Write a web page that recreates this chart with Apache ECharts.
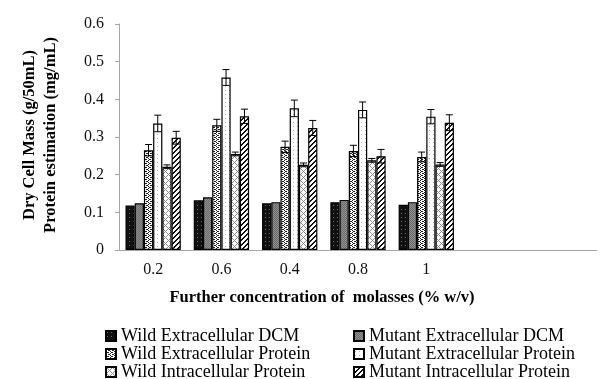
<!DOCTYPE html>
<html>
<head>
<meta charset="utf-8">
<script src="https://cdn.jsdelivr.net/npm/echarts@6/dist/echarts.min.js"></script>
<style>
  html, body { margin: 0; padding: 0; background: #fff; }
  #chart { width: 600px; height: 379px; }
</style>
</head>
<body>
<div id="chart"></div>
<script>
// Molasses concentrations (% w/v); the last two slots are left empty on the axis
const concentrations = ['0.2', '0.6', '0.4', '0.8', '1', '', ' '];

// Dry cell mass (g/50mL)
const wildExtracellularDCM   = [0.118, 0.132, 0.124, 0.127, 0.120];
const mutantExtracellularDCM = [0.124, 0.140, 0.127, 0.133, 0.127];

// Protein estimation (mg/mL) with standard errors
const wildExtracellularProtein      = [0.265, 0.331, 0.274, 0.263, 0.247];
const wildExtracellularProteinErr   = [0.015, 0.016, 0.015, 0.015, 0.013];
const mutantExtracellularProtein    = [0.336, 0.458, 0.376, 0.372, 0.354];
const mutantExtracellularProteinErr = [0.022, 0.021, 0.022, 0.021, 0.019];
const wildIntracellularProtein      = [0.221, 0.255, 0.226, 0.238, 0.227];
const wildIntracellularProteinErr   = [0.005, 0.005, 0.005, 0.005, 0.005];
const mutantIntracellularProtein    = [0.298, 0.355, 0.324, 0.249, 0.338];
const mutantIntracellularProteinErr = [0.017, 0.019, 0.020, 0.018, 0.021];

const seriesNames = [
  'Wild Extracellular DCM', 'Mutant Extracellular DCM',
  'Wild Extracellular Protein', 'Mutant Extracellular Protein',
  'Wild Intracellular Protein', 'Mutant Intracellular Protein'
];
const seriesValues = [
  wildExtracellularDCM, mutantExtracellularDCM,
  wildExtracellularProtein, mutantExtracellularProtein,
  wildIntracellularProtein, mutantIntracellularProtein
];
const seriesErrors = [
  null, null,
  wildExtracellularProteinErr, mutantExtracellularProteinErr,
  wildIntracellularProteinErr, mutantIntracellularProteinErr
];

// Small bitmap fills for the monochrome bar textures
function pattern(size, bg, fg, isOn) {
  const c = document.createElement('canvas');
  c.width = size; c.height = size;
  const ctx = c.getContext('2d');
  ctx.fillStyle = bg;
  ctx.fillRect(0, 0, size, size);
  ctx.fillStyle = fg;
  for (let y = 0; y < size; y++) {
    for (let x = 0; x < size; x++) {
      if (isOn(x, y)) ctx.fillRect(x, y, 1, 1);
    }
  }
  return { image: c, repeat: 'repeat' };
}

const fills = [
  pattern(4, '#111', '#6e6e6e', (x, y) => x === 1 && y === 1),
  pattern(2, '#8e8e8e', '#6c6c6c', (x, y) => x === y),
  pattern(4, '#fff', '#222', (x, y) => (x + 2 * y) % 4 === 0 || (x === 3 && y === 1) || (x === 1 && y === 3)),
  pattern(4, '#fff', '#b0b0b0', (x, y) => x === 1 && y === 2),
  pattern(6, '#fff', '#8a8a8a', (x, y) => (x + y) % 6 === 0 || (x - y + 6) % 6 === 0),
  pattern(5, '#fff', '#111', (x, y) => (x + y) % 5 === 0 || (x + y) % 5 === 1)
];

const GAP = 0.19;
const FONT = '"Liberation Serif", "Times New Roman", serif';

const barSeries = seriesNames.map((name, i) => ({
  name: name,
  type: 'bar',
  data: seriesValues[i],
  barGap: '0%',
  barCategoryGap: (GAP * 100) + '%',
  itemStyle: { color: fills[i], borderColor: '#000', borderWidth: 1.2 },
  emphasis: { disabled: true }
}));

// [categoryIndex, seriesIndex, value, error]
const errorData = [];
seriesValues.forEach((vals, s) => {
  if (!seriesErrors[s]) return;
  vals.forEach((v, c) => errorData.push([c, s, v, seriesErrors[s][c]]));
});

const errorSeries = {
  type: 'custom',
  data: errorData,
  encode: { x: 0, y: 2 },
  z: 10,
  silent: true,
  renderItem: function (params, api) {
    const cat = api.value(0), s = api.value(1), v = api.value(2), e = api.value(3);
    const catW = api.size([1, 0])[0];
    const barW = catW * (1 - GAP) / seriesNames.length;
    const base = api.coord([cat, v]);
    const x = base[0] + (s - (seriesNames.length - 1) / 2) * barW;
    const yTop = api.coord([cat, v + e])[1];
    const yBot = api.coord([cat, v - e])[1];
    const hw = 3.5;
    const st = { stroke: '#000', lineWidth: 1 };
    return {
      type: 'group',
      children: [
        { type: 'line', shape: { x1: x, y1: yTop, x2: x, y2: yBot }, style: st },
        { type: 'line', shape: { x1: x - hw, y1: yTop, x2: x + hw, y2: yTop }, style: st },
        { type: 'line', shape: { x1: x - hw, y1: yBot, x2: x + hw, y2: yBot }, style: st }
      ]
    };
  }
};

const legendBase = {
  orient: 'vertical',
  icon: 'rect',
  itemWidth: 10,
  itemHeight: 10,
  itemGap: 0,
  padding: 0,
  height: 60,
  selectedMode: false,
  textStyle: { fontFamily: FONT, fontSize: 18, color: '#000', lineHeight: 17 },
  top: 327
};

const chart = echarts.init(document.getElementById('chart'), null, { renderer: 'canvas' });
chart.setOption({
  backgroundColor: '#fff',
  animation: false,
  grid: { left: 119, right: 3, top: 24, bottom: 129 },
  legend: [
    Object.assign({}, legendBase, { left: 105, data: [seriesNames[0], seriesNames[2], seriesNames[4]] }),
    Object.assign({}, legendBase, { left: 353, data: [seriesNames[1], seriesNames[3], seriesNames[5]] })
  ],
  xAxis: {
    type: 'category',
    data: concentrations,
    axisLine: { lineStyle: { color: '#a6a6a6', width: 1 } },
    axisTick: { length: 5, lineStyle: { color: '#a6a6a6' } },
    axisLabel: { fontFamily: FONT, fontSize: 16, color: '#111', margin: 12 }
  },
  yAxis: {
    type: 'value',
    min: 0,
    max: 0.6,
    interval: 0.1,
    splitLine: { show: false },
    axisLine: { show: true, lineStyle: { color: '#a6a6a6', width: 1 } },
    axisTick: { show: true, length: 4, lineStyle: { color: '#a6a6a6' } },
    axisLabel: { fontFamily: FONT, fontSize: 16, color: '#111', margin: 15 }
  },
  graphic: [
    {
      type: 'text', x: 30, y: 135, rotation: Math.PI / 2,
      style: { text: 'Dry Cell Mass (g/50mL)', font: 'bold 16.5px ' + FONT, fill: '#000', align: 'center', verticalAlign: 'middle' }
    },
    {
      type: 'text', x: 51, y: 135, rotation: Math.PI / 2,
      style: { text: 'Protein estimation (mg/mL)', font: 'bold 16.5px ' + FONT, fill: '#000', align: 'center', verticalAlign: 'middle' }
    },
    {
      type: 'text', x: 322, y: 298,
      style: { text: 'Further concentration of  molasses (% w/v)', font: 'bold 16.5px ' + FONT, fill: '#000', align: 'center', verticalAlign: 'middle' }
    }
  ],
  series: barSeries.concat([errorSeries])
});
</script>
</body>
</html>
